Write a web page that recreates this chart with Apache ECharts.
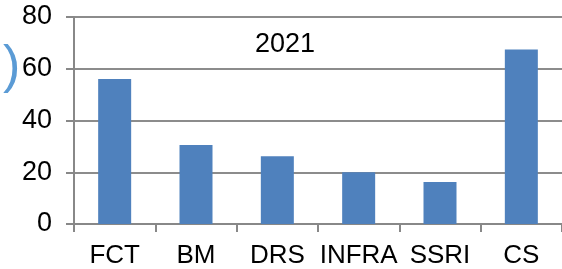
<!DOCTYPE html>
<html>
<head>
<meta charset="utf-8">
<script src="https://cdn.jsdelivr.net/npm/echarts@6/dist/echarts.min.js"></script>
<style>
  html, body { margin: 0; padding: 0; background: #fff; }
  #main { width: 562px; height: 269px; }
</style>
</head>
<body>
<div id="main"></div>
<script>
var categories = ['FCT', 'BM', 'DRS', 'INFRA', 'SSRI', 'CS'];
var values2021 = [56, 30.5, 26.2, 20, 16.2, 67.4];
var yTicks = [0, 20, 40, 60, 80];

var dom = document.getElementById('main');
var chart = echarts.init(dom);

var option = {
    animation: false,
    title: {
        text: '2021',
        left: 255,
        top: 31,
        padding: 0,
        textStyle: {
            fontFamily: 'Liberation Sans',
            fontSize: 27,
            fontWeight: 'normal',
            color: '#000'
        }
    },
    // cut-off bracket at the left edge of the source image
    graphic: [{
        type: 'text',
        left: 3,
        top: 42,
        style: {
            text: ')',
            fontFamily: 'Liberation Sans',
            fontSize: 52,
            fill: '#5b9bd5'
        }
    }],
    grid: {
        left: 74,
        top: 17,
        bottom: 44,
        right: -10
    },
    xAxis: {
        type: 'category',
        data: categories,
        axisLine: { lineStyle: { color: '#888', width: 2 } },
        axisTick: { show: true, length: 8, lineStyle: { color: '#888', width: 2 } },
        axisLabel: {
            interval: 0,
            margin: 19,
            fontFamily: 'Liberation Sans',
            fontSize: 26,
            color: '#000'
        }
    },
    yAxis: {
        type: 'value',
        min: yTicks[0],
        max: yTicks[yTicks.length - 1],
        interval: 20,
        axisLine: { show: true, lineStyle: { color: '#888', width: 2 } },
        axisTick: { show: true, length: 8, lineStyle: { color: '#888', width: 2 } },
        splitLine: { lineStyle: { color: '#8c8c8c', width: 2 } },
        axisLabel: {
            margin: 22,
            fontFamily: 'Liberation Sans',
            fontSize: 27,
            color: '#000'
        }
    },
    series: [{
        name: '2021',
        type: 'bar',
        data: values2021,
        barWidth: 33,
        itemStyle: { color: '#4f81bd' }
    }]
};

chart.setOption(option);
</script>
</body>
</html>
